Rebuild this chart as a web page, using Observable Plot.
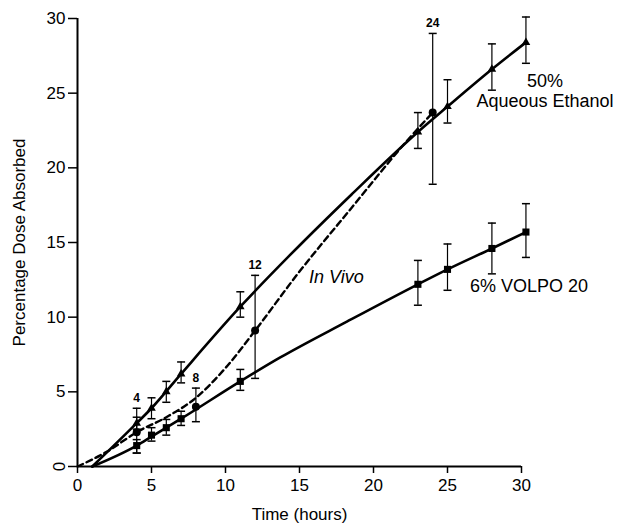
<!DOCTYPE html>
<html>
<head>
<meta charset="utf-8">
<script src="https://cdn.jsdelivr.net/npm/d3@7"></script>
<script src="https://cdn.jsdelivr.net/npm/@observablehq/plot@0.6"></script>
<style>
  html, body { margin: 0; padding: 0; background: #fff; }
</style>
</head>
<body>
<div id="chart"></div>
<script>
// ---- Data ----
const times = [4, 5, 6, 7, 11, 23, 25, 28, 30.3];
const ethanol   = [2.9, 3.9, 5.0, 6.2, 10.7, 22.4, 24.1, 26.6, 28.4];
const ethanolLo = [2.5, 3.2, 4.3, 5.6, 10.0, 21.3, 23.0, 25.2, 27.0];
const ethanolHi = [3.3, 4.6, 5.7, 7.0, 11.7, 23.7, 25.9, 28.3, 30.1];
const volpo   = [1.4, 2.1, 2.6, 3.2, 5.7, 12.2, 13.2, 14.6, 15.7];
const volpoLo = [0.9, 1.7, 2.1, 2.75, 5.1, 10.8, 11.8, 12.9, 14.0];
const volpoHi = [1.8, 2.6, 3.15, 3.7, 6.5, 13.8, 14.9, 16.3, 17.6];

const vivoTimes = [4, 8, 12, 24];
const vivo   = [2.3, 4.0, 9.1, 23.7];
const vivoLo = [0.9, 3.0, 5.9, 18.9];
const vivoHi = [3.9, 5.25, 12.8, 29.0];
const vivoTimeLabels = ["4", "8", "12", "24"];

// fitted curves as drawn in the reference
const ethanolFitT = [1.0, 4, 5, 7, 11, 14.4, 18.5, 23, 25, 28, 30.3];
const ethanolFit  = [0, 2.9, 3.9, 6.2, 10.7, 14.2, 18.2, 22.4, 24.1, 26.6, 28.4];
const volpoFitT = [1.0, 4, 5, 7, 11, 13.7, 18.2, 23, 25, 28, 30.3];
const volpoFit  = [0, 1.4, 2.0, 3.2, 5.7, 7.3, 9.7, 12.2, 13.2, 14.6, 15.7];
const vivoFitT = [0, 2, 4, 6, 8, 10, 12, 14.8, 18.5, 22.3, 24];
const vivoFit  = [0, 1.0, 2.3, 3.3, 4.6, 6.6, 9.1, 12.8, 17.3, 21.85, 23.7];

const xTicks = [0, 5, 10, 15, 20, 25, 30];
const yTicks = [0, 5, 10, 15, 20, 25, 30];

const xTitle = "Time (hours)";
const yTitle = "Percentage Dose Absorbed";
const ethanolLabel = "50%\nAqueous Ethanol";
const volpoLabel = "6% VOLPO 20";
const vivoLabel = "In Vivo";

// ---- Tables ----
const ethanolData = times.map((t, i) => ({t, v: ethanol[i], lo: ethanolLo[i], hi: ethanolHi[i]}));
const volpoData = times.map((t, i) => ({t, v: volpo[i], lo: volpoLo[i], hi: volpoHi[i]}));
const vivoData = vivoTimes.map((t, i) => ({t, v: vivo[i], lo: vivoLo[i], hi: vivoHi[i], label: vivoTimeLabels[i]}));
const ethanolCurve = ethanolFitT.map((t, i) => ({t, v: ethanolFit[i]}));
const volpoCurve = volpoFitT.map((t, i) => ({t, v: volpoFit[i]}));
const vivoCurve = vivoFitT.map((t, i) => ({t, v: vivoFit[i]}));

const cap = {draw(ctx) { ctx.moveTo(-4, 0); ctx.lineTo(4, 0); }};
const allBars = [...ethanolData, ...volpoData, ...vivoData];

const chart = Plot.plot({
  width: 620,
  height: 525,
  marginLeft: 77,
  marginRight: 99,
  marginTop: 18,
  marginBottom: 59,
  style: {fontFamily: "'Liberation Sans', Arial, sans-serif", fontSize: "17px", background: "white", color: "black"},
  x: {domain: [0, 30]},
  y: {domain: [0, 30]},
  marks: [
    Plot.axisX(xTicks, {tickSize: 7, tickPadding: 5, label: null, strokeWidth: 1.5}),
    Plot.axisY(yTicks.filter(d => d !== 0), {tickSize: 9, tickPadding: 3, label: null, strokeWidth: 1.5}),
    Plot.axisY([0], {tickSize: 9, tickPadding: 3, label: null, tickRotate: 90, strokeWidth: 1.5}),
    Plot.ruleX([0], {y1: 0, y2: 30, strokeWidth: 2}),
    Plot.ruleY([0], {x1: 0, x2: 30, strokeWidth: 2}),
    Plot.text([xTitle], {frameAnchor: "bottom", dy: 53, fontSize: 17, textAnchor: "middle"}),
    Plot.text([yTitle], {frameAnchor: "left", rotate: -90, dx: -58, fontSize: 17, textAnchor: "middle"}),
    // curves
    Plot.line(ethanolCurve, {x: "t", y: "v", curve: "monotone-x", strokeWidth: 2.6}),
    Plot.line(volpoCurve, {x: "t", y: "v", curve: "monotone-x", strokeWidth: 2.6}),
    Plot.line(vivoCurve, {x: "t", y: "v", curve: "monotone-x", strokeWidth: 2.4, strokeDasharray: "6,4"}),
    // error bars
    Plot.ruleX(allBars, {x: "t", y1: "lo", y2: "hi", strokeWidth: 1.2}),
    Plot.dot(allBars, {x: "t", y: "lo", symbol: cap, stroke: "black", fill: "none", strokeWidth: 1.5}),
    Plot.dot(allBars, {x: "t", y: "hi", symbol: cap, stroke: "black", fill: "none", strokeWidth: 1.5}),
    // markers
    Plot.dot(ethanolData, {x: "t", y: "v", symbol: "triangle", r: 3.2, fill: "black"}),
    Plot.dot(volpoData, {x: "t", y: "v", symbol: "square", r: 4, fill: "black"}),
    Plot.dot(vivoData, {x: "t", y: "v", symbol: "circle", r: 4, fill: "black"}),
    // time labels on in vivo points
    Plot.text(vivoData, {x: "t", y: "hi", text: "label", dy: -10, fontSize: 12, fontWeight: "bold"}),
    // series labels
    Plot.text(ethanolData.slice(-1), {x: "t", y: "v", text: () => ethanolLabel, dx: 19, dy: 48, textAnchor: "middle", lineHeight: 1.12, fontSize: 18}),
    Plot.text(volpoData.slice(-1), {x: "t", y: "v", text: () => volpoLabel, dx: -56, dy: 54, textAnchor: "start", fontSize: 18}),
    Plot.text(vivoData.filter(d => d.t === 12), {x: "t", y: "v", text: () => vivoLabel, dx: 54, dy: -53, textAnchor: "start", fontSize: 18, fontStyle: "italic"})
  ]
});
document.getElementById("chart").appendChild(chart);
</script>
</body>
</html>
